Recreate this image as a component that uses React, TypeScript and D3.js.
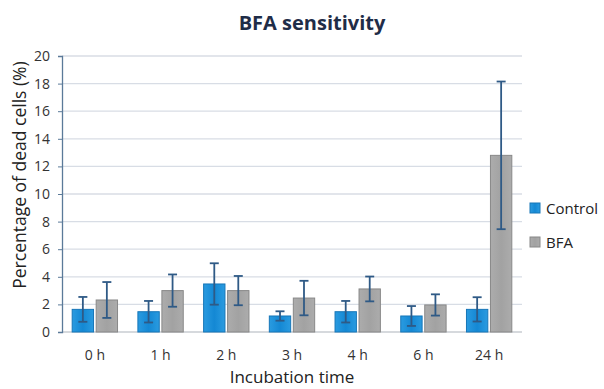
import React, { useEffect, useRef } from 'react'
import * as d3 from 'd3'

// data
const categories = ['0 h', '1 h', '2 h', '3 h', '4 h', '6 h', '24 h']
const seriesNames = ['Control', 'BFA']
const controlValues = [1.64, 1.47, 3.48, 1.16, 1.47, 1.16, 1.64]
const controlErrors = [0.9, 0.78, 1.5, 0.34, 0.78, 0.72, 0.88]
const bfaValues = [2.32, 3.0, 3.0, 2.46, 3.12, 1.96, 12.8]
const bfaErrors = [1.3, 1.17, 1.06, 1.25, 0.9, 0.77, 5.35]
const yTicks = [0, 2, 4, 6, 8, 10, 12, 14, 16, 18, 20]

const App = () => {
  const ref = useRef<SVGSVGElement>(null)

  useEffect(() => {
    const svg = d3.select(ref.current)
    svg.selectAll('*').remove()

    const width = 604
    const height = 389
    const margins = { top: 56, left: 62, right: 82, bottom: 57 }
    const font = '"Open Sans", "Noto Sans", sans-serif'

    const xScale = d3.scaleBand<string>()
      .domain(categories)
      .range([margins.left, width - margins.right])
      .paddingInner(0.31)
      .paddingOuter(0.155)

    const yScale = d3.scaleLinear()
      .domain([0, 20])
      .range([height - margins.bottom, margins.top])

    const inner = d3.scaleBand<string>()
      .domain(seriesNames)
      .range([0, xScale.bandwidth()])
      .paddingInner(0.11)

    // gradients for bars
    const defs = svg.append('defs')
    const g1 = defs.append('linearGradient').attr('id', 'gCtrl').attr('x1', 0).attr('x2', 1)
    g1.append('stop').attr('offset', '0%').attr('stop-color', '#2a9be0')
    g1.append('stop').attr('offset', '50%').attr('stop-color', '#1488d4')
    g1.append('stop').attr('offset', '100%').attr('stop-color', '#2a9be0')
    const g2 = defs.append('linearGradient').attr('id', 'gBfa').attr('x1', 0).attr('x2', 1)
    g2.append('stop').attr('offset', '0%').attr('stop-color', '#acacac')
    g2.append('stop').attr('offset', '50%').attr('stop-color', '#a2a2a2')
    g2.append('stop').attr('offset', '100%').attr('stop-color', '#acacac')

    // title
    svg.append('text')
      .attr('x', 312).attr('y', 30)
      .attr('text-anchor', 'middle')
      .style('font-family', font).style('font-size', '20px').style('font-weight', 700)
      .attr('fill', '#1f2d48')
      .text('BFA sensitivity')

    // gridlines
    svg.append('g')
      .selectAll('line')
      .data(yTicks.slice(1))
      .enter()
      .append('line')
      .attr('x1', margins.left).attr('x2', width - margins.right)
      .attr('y1', d => yScale(d)).attr('y2', d => yScale(d))
      .attr('stroke', '#d8dde5').attr('stroke-width', 1.3)

    // baseline
    svg.append('line')
      .attr('x1', margins.left).attr('x2', width - margins.right)
      .attr('y1', yScale(0)).attr('y2', yScale(0))
      .attr('stroke', '#c8ccd2').attr('stroke-width', 1.3)

    // y axis
    const yAxis = svg.append('g')
      .attr('transform', `translate(${margins.left},0)`)
      .call(d3.axisLeft(yScale).tickValues(yTicks).tickSize(4).tickPadding(8))
    yAxis.select('.domain').attr('stroke', '#5b7a99').attr('stroke-width', 1.3)
    yAxis.selectAll('.tick line').attr('stroke', '#5b7a99')
    yAxis.selectAll('.tick text')
      .style('font-family', font).style('font-size', '14px').attr('fill', '#333')

    // x labels
    svg.append('g')
      .selectAll('text')
      .data(categories)
      .enter()
      .append('text')
      .attr('x', d => (xScale(d) as number) + xScale.bandwidth() / 2)
      .attr('y', 360)
      .attr('text-anchor', 'middle')
      .style('font-family', font).style('font-size', '14px').attr('fill', '#333')
      .text(d => d)

    // bars + error bars
    const series = [
      { name: 'Control', values: controlValues, errors: controlErrors, fill: 'url(#gCtrl)', stroke: '#1676b8' },
      { name: 'BFA', values: bfaValues, errors: bfaErrors, fill: 'url(#gBfa)', stroke: '#888888' },
    ]
    series.forEach(s => {
      const gr = svg.append('g')
      categories.forEach((c, i) => {
        const x = (xScale(c) as number) + (inner(s.name) as number)
        const w = inner.bandwidth()
        const v = s.values[i]
        gr.append('rect')
          .attr('x', x).attr('y', yScale(v))
          .attr('width', w).attr('height', yScale(0) - yScale(v))
          .attr('fill', s.fill).attr('stroke', s.stroke).attr('stroke-width', 1)
        const cx = x + w / 2
        const hi = yScale(v + s.errors[i])
        const lo = yScale(v - s.errors[i])
        gr.append('line').attr('x1', cx).attr('x2', cx).attr('y1', hi).attr('y2', lo)
          .attr('stroke', '#2f5a86').attr('stroke-width', 1.8)
        ;[hi, lo].forEach(yy => {
          gr.append('line').attr('x1', cx - 4.5).attr('x2', cx + 4.5).attr('y1', yy).attr('y2', yy)
            .attr('stroke', '#2f5a86').attr('stroke-width', 1.8)
        })
      })
    })

    // legend
    const legend = svg.append('g')
    series.forEach((s, i) => {
      const ly = 208 + i * 34
      legend.append('rect')
        .attr('x', 530).attr('y', ly - 5).attr('width', 10).attr('height', 10)
        .attr('fill', s.fill).attr('stroke', s.stroke)
      legend.append('text')
        .attr('x', 546).attr('y', ly + 6)
        .style('font-family', font).style('font-size', '15px').attr('fill', '#222')
        .text(s.name)
    })

    // axis titles
    svg.append('text')
      .attr('transform', 'translate(26,175) rotate(-90)')
      .attr('text-anchor', 'middle')
      .style('font-family', font).style('font-size', '17.5px').attr('fill', '#222')
      .text('Percentage of dead cells (%)')
    svg.append('text')
      .attr('x', 292).attr('y', 383)
      .attr('text-anchor', 'middle')
      .style('font-family', font).style('font-size', '17px').attr('fill', '#222')
      .text('Incubation time')
  }, [])

  return (
    <svg ref={ref} width={604} height={389}
      style={{ position: 'absolute', left: 0, top: 0, background: '#fff' }}></svg>
  )
}

export default App
